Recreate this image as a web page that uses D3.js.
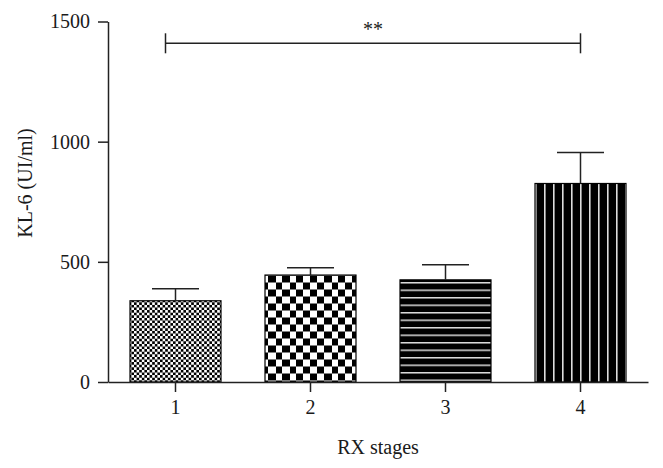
<!DOCTYPE html>
<html>
<head>
<meta charset="utf-8">
<script src="https://cdn.jsdelivr.net/npm/d3@7"></script>
<style>
  body { margin: 0; background: #fff; }
  text { font-family: "Liberation Serif", "DejaVu Serif", serif; fill: #1a1a1a; }
</style>
</head>
<body>
<div class="barchart"></div>
<script>
  // data
  var stages = ["1", "2", "3", "4"];
  var means = [338, 445, 425, 826];
  var upperErr = [388, 475, 488, 955];
  var patterns = ["checkSmall", "checkBig", "hLines", "vLines"];
  var yTicks = [0, 500, 1000, 1500];

  var W = 663, H = 468;
  var margin = { top: 21.5, right: 15, bottom: 86, left: 108 };
  var width = W - margin.left - margin.right,
    height = H - margin.top - margin.bottom;

  var svg = d3.select(".barchart").append("svg")
    .attr("width", W)
    .attr("height", H);

  var defs = svg.append("defs");

  // small checkerboard
  var p1 = defs.append("pattern").attr("id", "checkSmall")
    .attr("patternUnits", "userSpaceOnUse").attr("width", 5.2).attr("height", 5.2);
  p1.append("rect").attr("width", 5.2).attr("height", 5.2).attr("fill", "#fff");
  p1.append("rect").attr("width", 2.6).attr("height", 2.6).attr("fill", "#000");
  p1.append("rect").attr("x", 2.6).attr("y", 2.6).attr("width", 2.6).attr("height", 2.6).attr("fill", "#000");

  // big checkerboard
  var p2 = defs.append("pattern").attr("id", "checkBig")
    .attr("patternUnits", "userSpaceOnUse").attr("width", 14).attr("height", 14)
    .attr("x", 265).attr("y", 275);
  p2.append("rect").attr("width", 14).attr("height", 14).attr("fill", "#fff");
  p2.append("rect").attr("width", 7).attr("height", 7).attr("fill", "#000");
  p2.append("rect").attr("x", 7).attr("y", 7).attr("width", 7).attr("height", 7).attr("fill", "#000");

  // black with horizontal white lines
  var p3 = defs.append("pattern").attr("id", "hLines")
    .attr("patternUnits", "userSpaceOnUse").attr("width", 10).attr("height", 7.5)
    .attr("x", 0).attr("y", 283);
  p3.append("rect").attr("width", 10).attr("height", 7.5).attr("fill", "#000");
  p3.append("rect").attr("y", 0).attr("width", 10).attr("height", 1.5).attr("fill", "#ddd");

  // black with vertical white lines
  var p4 = defs.append("pattern").attr("id", "vLines")
    .attr("patternUnits", "userSpaceOnUse").attr("width", 9).attr("height", 10)
    .attr("x", 544).attr("y", 0);
  p4.append("rect").attr("width", 9).attr("height", 10).attr("fill", "#000");
  p4.append("rect").attr("x", 0).attr("width", 1.6).attr("height", 10).attr("fill", "#ddd");

  var chart = svg.append("g")
    .attr("transform", "translate(" + margin.left + "," + margin.top + ")");

  var x = d3.scaleBand()
    .domain(stages)
    .range([0, width])
    .paddingInner(0.326)
    .paddingOuter(0.163);

  var y = d3.scaleLinear()
    .domain([0, 1500])
    .range([height, 0]);

  var data = stages.map(function(s, i) {
    return { key: s, value: means[i], up: upperErr[i], pat: patterns[i] };
  });

  // bars
  chart.selectAll(".bar")
    .data(data)
    .enter().append("rect")
    .attr("class", "bar")
    .attr("x", function(d) { return x(d.key); })
    .attr("width", x.bandwidth())
    .attr("y", function(d) { return y(d.value); })
    .attr("height", function(d) { return height - y(d.value); })
    .attr("fill", function(d) { return "url(#" + d.pat + ")"; })
    .attr("stroke", "#000")
    .attr("stroke-width", 1.2);

  // error bars (upper only)
  var capW = 47;
  var err = chart.selectAll(".err")
    .data(data)
    .enter().append("g")
    .attr("class", "err")
    .attr("stroke", "#222")
    .attr("stroke-width", 1.5);
  err.append("line")
    .attr("x1", function(d) { return x(d.key) + x.bandwidth() / 2; })
    .attr("x2", function(d) { return x(d.key) + x.bandwidth() / 2; })
    .attr("y1", function(d) { return y(d.value); })
    .attr("y2", function(d) { return y(d.up); });
  err.append("line")
    .attr("x1", function(d) { return x(d.key) + x.bandwidth() / 2 - capW / 2; })
    .attr("x2", function(d) { return x(d.key) + x.bandwidth() / 2 + capW / 2; })
    .attr("y1", function(d) { return y(d.up); })
    .attr("y2", function(d) { return y(d.up); });

  // axes
  chart.append("g")
    .attr("class", "x axis")
    .attr("transform", "translate(0," + height + ")")
    .call(d3.axisBottom(x).tickSize(10).tickPadding(8).tickSizeOuter(0));

  chart.append("g")
    .attr("class", "y axis")
    .call(d3.axisLeft(y).tickValues(yTicks).tickFormat(d3.format("d"))
      .tickSize(10).tickPadding(8).tickSizeOuter(0));

  chart.selectAll(".axis path, .axis line")
    .attr("stroke", "#222")
    .attr("stroke-width", 1.5);
  chart.selectAll(".axis text")
    .attr("font-family", "Liberation Serif, serif")
    .attr("font-size", 20)
    .attr("fill", "#1a1a1a");

  // axis titles
  chart.append("text")
    .attr("transform", "translate(" + (width / 2) + "," + (height + 72) + ")")
    .style("text-anchor", "middle")
    .attr("font-size", 20)
    .text("RX stages");

  svg.append("text")
    .attr("transform", "translate(32," + 183 + ") rotate(-90)")
    .style("text-anchor", "middle")
    .attr("font-size", 20)
    .text("KL-6 (UI/ml)");

  // significance bracket between stage 1 and 4
  var bx1 = x("1") + x.bandwidth() / 2 - 10,
    bx2 = x("4") + x.bandwidth() / 2,
    by = 43.3 - margin.top;
  var br = chart.append("g").attr("stroke", "#222").attr("stroke-width", 1.5);
  br.append("line").attr("x1", bx1).attr("x2", bx2).attr("y1", by).attr("y2", by);
  br.append("line").attr("x1", bx1).attr("x2", bx1).attr("y1", by - 10).attr("y2", by + 10);
  br.append("line").attr("x1", bx2).attr("x2", bx2).attr("y1", by - 10).attr("y2", by + 10);
  chart.append("text")
    .attr("x", (bx1 + bx2) / 2)
    .attr("y", by - 7)
    .style("text-anchor", "middle")
    .attr("font-size", 20)
    .text("**");
</script>
</body>
</html>
